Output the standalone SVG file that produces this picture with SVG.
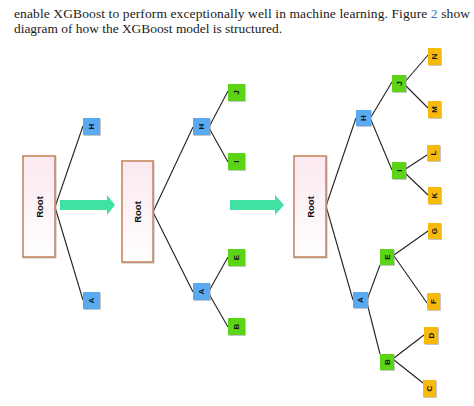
<svg xmlns="http://www.w3.org/2000/svg" width="474" height="406" viewBox="0 0 474 406">
<style>
.bg{fill:#ffffff}
.cap{font-family:"Liberation Serif","DejaVu Serif",serif;font-size:13.5px;fill:#1a1a1a}
.root rect{fill:url(#rg);stroke:#c88a62;stroke-width:1.6}
.root text{font-family:"Liberation Sans",Arial,sans-serif;font-size:9.5px;font-weight:bold;fill:#111;text-anchor:middle;dominant-baseline:central}
.n text{font-family:"Liberation Sans",Arial,sans-serif;font-size:8px;font-weight:bold;fill:#111;text-anchor:middle;dominant-baseline:central}
.b rect{fill:#5aaaf2}
.g rect{fill:#5cd414}
.o rect{fill:#f8b908}
.n rect{filter:url(#sh)}
.conn line{stroke:#222;stroke-width:1.1}
.arr{fill:#3fe2a0}
</style>
<defs>
<linearGradient id="rg" x1="0" y1="0" x2="0" y2="1">
<stop offset="0" stop-color="#fbe8f0"/>
<stop offset="1" stop-color="#ffffff"/>
</linearGradient>
<filter id="sh" x="-20%" y="-20%" width="150%" height="150%">
<feDropShadow dx="0.8" dy="0.8" stdDeviation="0.5" flood-color="#888" flood-opacity="0.6"/>
</filter>
<filter id="sh2" x="-20%" y="-20%" width="150%" height="150%">
<feDropShadow dx="0.6" dy="0.6" stdDeviation="0.6" flood-color="#999" flood-opacity="0.7"/>
</filter>
</defs>
<rect class="bg" x="0" y="0" width="474" height="406"/>
<g id="caption">
<text class="cap" x="14" y="17.5" textLength="456" lengthAdjust="spacing">enable XGBoost to perform exceptionally well in machine learning.  Figure <tspan fill="#3a6fd0">2</tspan> show</text>
<text class="cap" x="14" y="32.5" textLength="268" lengthAdjust="spacingAndGlyphs">diagram of how the XGBoost model is structured.</text>
</g>
<g id="arrows">
<path class="arr" d="M60,200 H107 V195 L115,205 L107,215 V210 H60 Z"/>
<path class="arr" d="M230,200 H275 V195 L284,205 L275,215 V210 H230 Z"/>
</g>
<g id="connectors" class="conn">
<line x1="55" y1="207" x2="83" y2="126"/>
<line x1="55" y1="207" x2="83" y2="300"/>
<line x1="153" y1="212" x2="193" y2="127"/>
<line x1="153" y1="212" x2="193" y2="292"/>
<line x1="209" y1="127" x2="228" y2="91"/>
<line x1="209" y1="128" x2="228" y2="162"/>
<line x1="209" y1="291" x2="228" y2="257"/>
<line x1="209" y1="294" x2="228" y2="327"/>
<line x1="326" y1="206" x2="356" y2="118"/>
<line x1="326" y1="206" x2="353" y2="300"/>
<line x1="371" y1="117" x2="392" y2="82"/>
<line x1="371" y1="120" x2="392" y2="170"/>
<line x1="404" y1="83" x2="428" y2="55"/>
<line x1="404" y1="84" x2="428" y2="108"/>
<line x1="404" y1="170" x2="427" y2="155"/>
<line x1="404" y1="172" x2="428" y2="195"/>
<line x1="367" y1="300" x2="380" y2="265"/>
<line x1="367" y1="303" x2="380" y2="354"/>
<line x1="394" y1="255" x2="428" y2="231"/>
<line x1="394" y1="256" x2="427" y2="303"/>
<line x1="394" y1="358" x2="424" y2="335"/>
<line x1="394" y1="360" x2="423" y2="383"/>
</g>
<g id="root1" class="root"><rect x="23" y="156" width="32" height="101" filter="url(#sh2)"/><text transform="rotate(-90 39 207)" x="39" y="207">Root</text></g>
<g id="t1H" class="n b"><rect x="83" y="118" width="17" height="17"/><text transform="rotate(-90 91.5 126.5)" x="91.5" y="126.5">H</text></g>
<g id="t1A" class="n b"><rect x="83" y="292" width="17" height="17"/><text transform="rotate(-90 91.5 300.5)" x="91.5" y="300.5">A</text></g>

<g id="root2" class="root"><rect x="122" y="161" width="31" height="101" filter="url(#sh2)"/><text transform="rotate(-90 137.5 212)" x="137.5" y="212">Root</text></g>
<g id="t2H" class="n b"><rect x="193" y="118" width="17" height="17"/><text transform="rotate(-90 201.5 126.5)" x="201.5" y="126.5">H</text></g>
<g id="t2A" class="n b"><rect x="193" y="283" width="17" height="17"/><text transform="rotate(-90 201.5 291.5)" x="201.5" y="291.5">A</text></g>
<g id="t2J" class="n g"><rect x="228" y="84" width="17" height="17"/><text transform="rotate(-90 236.5 92.5)" x="236.5" y="92.5">J</text></g>
<g id="t2I" class="n g"><rect x="228" y="153" width="17" height="17"/><text transform="rotate(-90 236.5 161.5)" x="236.5" y="161.5">I</text></g>
<g id="t2E" class="n g"><rect x="228" y="249" width="17" height="17"/><text transform="rotate(-90 236.5 257.5)" x="236.5" y="257.5">E</text></g>
<g id="t2B" class="n g"><rect x="228" y="318" width="17" height="17"/><text transform="rotate(-90 236.5 326.5)" x="236.5" y="326.5">B</text></g>

<g id="root3" class="root"><rect x="294" y="156" width="32" height="101" filter="url(#sh2)"/><text transform="rotate(-90 310 207)" x="310" y="207">Root</text></g>
<g id="t3H" class="n b"><rect x="356" y="110" width="15" height="16"/><text transform="rotate(-90 363.5 118)" x="363.5" y="118">H</text></g>
<g id="t3A" class="n b"><rect x="353" y="292" width="15" height="16"/><text transform="rotate(-90 360.5 300)" x="360.5" y="300">A</text></g>
<g id="t3J" class="n g"><rect x="392" y="75" width="14" height="17"/><text transform="rotate(-90 399 83.5)" x="399" y="83.5">J</text></g>
<g id="t3I" class="n g"><rect x="392" y="162" width="14" height="17"/><text transform="rotate(-90 399 170.5)" x="399" y="170.5">I</text></g>
<g id="t3E" class="n g"><rect x="380" y="249" width="14" height="16"/><text transform="rotate(-90 387 257)" x="387" y="257">E</text></g>
<g id="t3B" class="n g"><rect x="380" y="354" width="14" height="16"/><text transform="rotate(-90 387 362)" x="387" y="362">B</text></g>
<g id="t3N" class="n o"><rect x="428" y="48" width="13" height="17"/><text transform="rotate(-90 434.5 56.5)" x="434.5" y="56.5">N</text></g>
<g id="t3M" class="n o"><rect x="428" y="101" width="13" height="17"/><text transform="rotate(-90 434.5 109.5)" x="434.5" y="109.5">M</text></g>
<g id="t3L" class="n o"><rect x="427" y="145" width="13" height="16"/><text transform="rotate(-90 433.5 153)" x="433.5" y="153">L</text></g>
<g id="t3K" class="n o"><rect x="428" y="187" width="13" height="17"/><text transform="rotate(-90 434.5 195.5)" x="434.5" y="195.5">K</text></g>
<g id="t3G" class="n o"><rect x="428" y="223" width="13" height="16"/><text transform="rotate(-90 434.5 231)" x="434.5" y="231">G</text></g>
<g id="t3F" class="n o"><rect x="427" y="293" width="13" height="17"/><text transform="rotate(-90 433.5 301.5)" x="433.5" y="301.5">F</text></g>
<g id="t3D" class="n o"><rect x="424" y="327" width="14" height="17"/><text transform="rotate(-90 431 335.5)" x="431" y="335.5">D</text></g>
<g id="t3C" class="n o"><rect x="423" y="380" width="13" height="17"/><text transform="rotate(-90 429.5 388.5)" x="429.5" y="388.5">C</text></g>
</svg>
